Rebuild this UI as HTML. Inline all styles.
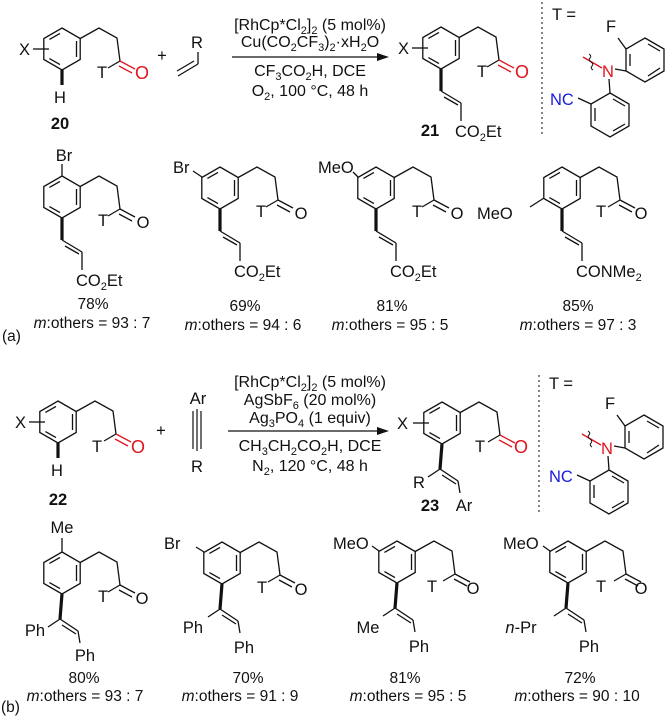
<!DOCTYPE html>
<html><head><meta charset="utf-8"><style>
html,body{margin:0;padding:0;background:#fff}
svg{display:block}
text{font-family:"Liberation Sans",sans-serif;font-size:16.5px;fill:#111}
.s{font-size:15.5px}
.rg{font-size:16px}
.red{fill:#e0141e}
.blue{fill:#1a1adc}
.b{font-weight:bold}
</style></head><body>
<svg width="670" height="717" viewBox="0 0 670 717" xmlns="http://www.w3.org/2000/svg">
<defs>
<g id="r" fill="none" stroke="#111" stroke-width="1.3">
<polygon points="0,-21 18.2,-10.5 18.2,10.5 0,21 -18.2,10.5 -18.2,-10.5"/>
<line x1="14.5" y1="-8" x2="14.5" y2="8"/>
<line x1="-2" y1="15.6" x2="-12.6" y2="9.6"/>
<line x1="-12.6" y1="-9.6" x2="-2" y2="-15.6"/>
</g>
<g id="c" fill="none" stroke-width="1.3">
<polyline points="18.2,-10.5 37,-21 55,-11 58,12" stroke="#111"/>
<line x1="58" y1="12" x2="46" y2="19" stroke="#111"/>
<line x1="58" y1="12" x2="73" y2="20" stroke="#e0141e"/>
<line x1="57" y1="17" x2="70" y2="24" stroke="#e0141e"/>
</g>
<g id="cb" fill="none" stroke-width="1.3" stroke="#111">
<polyline points="18.2,-10.5 37,-21 55,-11 58,12"/>
<line x1="58" y1="12" x2="46" y2="19"/>
<line x1="58" y1="12" x2="73" y2="20"/>
<line x1="57" y1="17" x2="70" y2="24"/>
</g>
<g id="v" fill="none" stroke="#111" stroke-width="1.3">
<line x1="0" y1="21" x2="0" y2="43" stroke-width="3.2"/>
<line x1="0" y1="43" x2="20" y2="55"/>
<line x1="3" y1="49" x2="17" y2="57"/>
<line x1="20" y1="55" x2="20" y2="73"/>
</g>
<g id="w" fill="none" stroke="#111" stroke-width="1.3">
<line x1="0" y1="21" x2="-2" y2="46" stroke-width="3.2"/>
<line x1="-2" y1="46" x2="-14" y2="54"/>
<line x1="-2" y1="46" x2="16" y2="58"/>
<line x1="0" y1="52" x2="14" y2="61"/>
<line x1="16" y1="58" x2="18" y2="70"/>
</g>
<g id="T">
<g fill="none" stroke="#111" stroke-width="1.3">
<polygon points="645,38 664,49 664,71 645,82 626,71 626,49"/>
<line x1="648" y1="44" x2="660" y2="51"/><line x1="660" y1="68" x2="648" y2="76"/><line x1="630" y1="66" x2="630" y2="54"/>
<line x1="626" y1="49" x2="618" y2="38"/>
<line x1="615" y1="69" x2="626" y2="71"/>
<polygon points="610,93 629,104 629,126 610,137 591,126 591,104"/>
<line x1="613" y1="99" x2="625" y2="106"/><line x1="625" y1="124" x2="613" y2="131"/><line x1="595" y1="121" x2="595" y2="108"/>
<line x1="609" y1="79" x2="610" y2="93"/>
<line x1="578" y1="98" x2="591" y2="104"/>
<line x1="583" y1="57" x2="602" y2="68" stroke="#e0141e"/>
<path d="M589,54 q3,2 1,4 q-2,2 1,4 q3,2 1,4 q-2,2 1,4" stroke="#111" stroke-width="1"/>
</g>
<text x="611" y="32" text-anchor="middle">F</text>
<text x="608" y="77" text-anchor="middle" class="red">N</text>
<text x="550" y="105" class="blue">NC</text>
</g>
</defs>

<!-- ===== Scheme a ===== -->
<use href="#r" x="62" y="49"/><use href="#c" x="62" y="49"/>
<line x1="33" y1="49" x2="49" y2="49" stroke="#111" stroke-width="1.3"/>
<text x="19" y="55">X</text>
<line x1="62" y1="70" x2="62" y2="85" stroke="#111" stroke-width="3.2"/>
<text x="60" y="103" text-anchor="middle">H</text>
<text x="102" y="78" text-anchor="middle">T</text>
<text x="142" y="79" text-anchor="middle" class="red" style="font-size:18px">O</text>
<text x="60" y="129" text-anchor="middle" class="b">20</text>

<text x="162" y="61" text-anchor="middle">+</text>
<text x="197" y="48" text-anchor="middle">R</text>
<g stroke="#111" stroke-width="1.3"><line x1="198" y1="52" x2="198" y2="64"/><line x1="198" y1="64" x2="178" y2="76"/><line x1="194" y1="61" x2="177" y2="71"/></g>

<line x1="232" y1="57" x2="380" y2="57" stroke="#111" stroke-width="1.3"/>
<polygon points="389,57 377,53 377,61" fill="#111"/>
<text x="310" y="30" text-anchor="middle" class="rg">[RhCp*Cl<tspan font-size="11" dy="4">2</tspan><tspan dy="-4">]</tspan><tspan font-size="11" dy="4">2</tspan><tspan dy="-4"> (5 mol%)</tspan></text>
<text x="310" y="47" text-anchor="middle" class="rg">Cu(CO<tspan font-size="11" dy="4">2</tspan><tspan dy="-4">CF</tspan><tspan font-size="11" dy="4">3</tspan><tspan dy="-4">)</tspan><tspan font-size="11" dy="4">2</tspan><tspan dy="-4">·xH</tspan><tspan font-size="11" dy="4">2</tspan><tspan dy="-4">O</tspan></text>
<text x="310" y="76" text-anchor="middle" class="rg">CF<tspan font-size="11" dy="4">3</tspan><tspan dy="-4">CO</tspan><tspan font-size="11" dy="4">2</tspan><tspan dy="-4">H, DCE</tspan></text>
<text x="310" y="96" text-anchor="middle" class="rg">O<tspan font-size="11" dy="4">2</tspan><tspan dy="-4">, 100 °C, 48 h</tspan></text>

<use href="#r" x="441" y="48"/><use href="#c" x="441" y="48"/><use href="#v" x="441" y="48"/>
<line x1="412" y1="48" x2="428" y2="48" stroke="#111" stroke-width="1.3"/>
<text x="398" y="54">X</text>
<text x="482" y="77" text-anchor="middle">T</text>
<text x="522" y="78" text-anchor="middle" class="red" style="font-size:18px">O</text>
<text x="455" y="137">CO<tspan font-size="11" dy="4">2</tspan><tspan dy="-4">Et</tspan></text>
<text x="430" y="136" text-anchor="middle" class="b">21</text>
<line x1="542" y1="2" x2="542" y2="137" stroke="#333" stroke-width="1.2" stroke-dasharray="2,3"/>
<text x="552" y="20">T =</text>
<use href="#T"/>

<!-- products a -->
<use href="#r" x="62" y="197"/><use href="#cb" x="62" y="197"/><use href="#v" x="62" y="197"/>
<line x1="62" y1="176" x2="62" y2="164" stroke="#111" stroke-width="1.3"/>
<text x="64" y="161" text-anchor="middle">Br</text>
<text x="103" y="226" text-anchor="middle">T</text><text x="143" y="228" text-anchor="middle">O</text>
<text x="76" y="286">CO<tspan font-size="11" dy="4">2</tspan><tspan dy="-4">Et</tspan></text>
<text x="93" y="309" text-anchor="middle" class="s">78%</text>
<text x="92" y="328" text-anchor="middle" class="s"><tspan font-style="italic">m</tspan>:others = 93 : 7</text>
<text x="2" y="341" class="s">(a)</text>

<use href="#r" x="220" y="188"/><use href="#cb" x="220" y="188"/><use href="#v" x="220" y="188"/>
<line x1="202" y1="177" x2="193" y2="171" stroke="#111" stroke-width="1.3"/>
<text x="173" y="173">Br</text>
<text x="261" y="217" text-anchor="middle">T</text><text x="301" y="219" text-anchor="middle">O</text>
<text x="234" y="277">CO<tspan font-size="11" dy="4">2</tspan><tspan dy="-4">Et</tspan></text>
<text x="245" y="311" text-anchor="middle" class="s">69%</text>
<text x="243" y="330" text-anchor="middle" class="s"><tspan font-style="italic">m</tspan>:others = 94 : 6</text>

<use href="#r" x="376" y="188"/><use href="#cb" x="376" y="188"/><use href="#v" x="376" y="188"/>
<line x1="358" y1="177" x2="353" y2="172" stroke="#111" stroke-width="1.3"/>
<text x="318" y="173">MeO</text>
<text x="417" y="217" text-anchor="middle">T</text><text x="457" y="219" text-anchor="middle">O</text>
<text x="390" y="277">CO<tspan font-size="11" dy="4">2</tspan><tspan dy="-4">Et</tspan></text>
<text x="392" y="311" text-anchor="middle" class="s">81%</text>
<text x="390" y="330" text-anchor="middle" class="s"><tspan font-style="italic">m</tspan>:others = 95 : 5</text>

<use href="#r" x="562" y="188"/><use href="#cb" x="562" y="188"/><use href="#v" x="562" y="188"/>
<line x1="544" y1="198" x2="530" y2="207" stroke="#111" stroke-width="1.3"/>
<text x="477" y="219">MeO</text>
<text x="601" y="217" text-anchor="middle">T</text><text x="641" y="219" text-anchor="middle">O</text>
<text x="576" y="277">CONMe<tspan font-size="11" dy="4">2</tspan></text>
<text x="578" y="311" text-anchor="middle" class="s">85%</text>
<text x="578" y="330" text-anchor="middle" class="s"><tspan font-style="italic">m</tspan>:others = 97 : 3</text>

<!-- ===== Scheme b ===== -->
<use href="#r" x="58" y="422"/><use href="#c" x="58" y="422"/>
<line x1="29" y1="422" x2="45" y2="422" stroke="#111" stroke-width="1.3"/>
<text x="15" y="428">X</text>
<line x1="58" y1="443" x2="58" y2="458" stroke="#111" stroke-width="3.2"/>
<text x="57" y="476" text-anchor="middle">H</text>
<text x="97" y="452" text-anchor="middle">T</text>
<text x="138" y="453" text-anchor="middle" class="red" style="font-size:18px">O</text>
<text x="58" y="505" text-anchor="middle" class="b">22</text>

<text x="161" y="436" text-anchor="middle">+</text>
<text x="198" y="404" text-anchor="middle">Ar</text>
<g stroke="#111" stroke-width="1.2"><line x1="197" y1="409" x2="197" y2="451"/><line x1="193" y1="411" x2="193" y2="449"/><line x1="201" y1="411" x2="201" y2="449"/></g>
<text x="197" y="472" text-anchor="middle">R</text>

<line x1="228" y1="431" x2="380" y2="431" stroke="#111" stroke-width="1.3"/>
<polygon points="389,431 377,427 377,435" fill="#111"/>
<text x="310" y="387" text-anchor="middle" class="rg">[RhCp*Cl<tspan font-size="11" dy="4">2</tspan><tspan dy="-4">]</tspan><tspan font-size="11" dy="4">2</tspan><tspan dy="-4"> (5 mol%)</tspan></text>
<text x="310" y="405" text-anchor="middle" class="rg">AgSbF<tspan font-size="11" dy="4">6</tspan><tspan dy="-4"> (20 mol%)</tspan></text>
<text x="310" y="423" text-anchor="middle" class="rg">Ag<tspan font-size="11" dy="4">3</tspan><tspan dy="-4">PO</tspan><tspan font-size="11" dy="4">4</tspan><tspan dy="-4"> (1 equiv)</tspan></text>
<text x="310" y="451" text-anchor="middle" class="rg">CH<tspan font-size="11" dy="4">3</tspan><tspan dy="-4">CH</tspan><tspan font-size="11" dy="4">2</tspan><tspan dy="-4">CO</tspan><tspan font-size="11" dy="4">2</tspan><tspan dy="-4">H, DCE</tspan></text>
<text x="310" y="471" text-anchor="middle" class="rg">N<tspan font-size="11" dy="4">2</tspan><tspan dy="-4">, 120 °C, 48 h</tspan></text>

<use href="#r" x="442" y="423"/><use href="#c" x="442" y="423"/><use href="#w" x="442" y="423"/>
<line x1="413" y1="423" x2="429" y2="423" stroke="#111" stroke-width="1.3"/>
<text x="397" y="429">X</text>
<text x="480" y="452" text-anchor="middle">T</text>
<text x="521" y="453" text-anchor="middle" class="red" style="font-size:18px">O</text>
<text x="419" y="488" text-anchor="middle">R</text>
<text x="464" y="511" text-anchor="middle">Ar</text>
<text x="430" y="511" text-anchor="middle" class="b">23</text>
<line x1="539" y1="375" x2="539" y2="515" stroke="#333" stroke-width="1.2" stroke-dasharray="2,3"/>
<text x="549" y="389">T =</text>
<use href="#T" transform="translate(-1,377)"/>

<!-- products b -->
<use href="#r" x="62" y="573"/><use href="#cb" x="62" y="573"/><use href="#w" x="62" y="573"/>
<line x1="62" y1="552" x2="62" y2="538" stroke="#111" stroke-width="1.3"/>
<text x="62" y="533" text-anchor="middle">Me</text>
<text x="103" y="602" text-anchor="middle">T</text><text x="142" y="604" text-anchor="middle">O</text>
<text x="35" y="636" text-anchor="middle">Ph</text><text x="85" y="661" text-anchor="middle">Ph</text>
<text x="84" y="683" text-anchor="middle" class="s">80%</text>
<text x="85" y="701" text-anchor="middle" class="s"><tspan font-style="italic">m</tspan>:others = 93 : 7</text>
<text x="1" y="712" class="s">(b)</text>

<use href="#r" x="222" y="563"/><use href="#cb" x="222" y="563"/><use href="#w" x="222" y="563"/>
<line x1="204" y1="552" x2="196" y2="547" stroke="#111" stroke-width="1.3"/>
<text x="164" y="549">Br</text>
<text x="262" y="593" text-anchor="middle">T</text><text x="301" y="595" text-anchor="middle">O</text>
<text x="193" y="633" text-anchor="middle">Ph</text><text x="244" y="653" text-anchor="middle">Ph</text>
<text x="248" y="683" text-anchor="middle" class="s">70%</text>
<text x="240" y="701" text-anchor="middle" class="s"><tspan font-style="italic">m</tspan>:others = 91 : 9</text>

<use href="#r" x="397" y="562"/><use href="#cb" x="397" y="562"/><use href="#w" x="397" y="562"/>
<line x1="379" y1="551" x2="372" y2="546" stroke="#111" stroke-width="1.3"/>
<text x="333" y="549">MeO</text>
<text x="432" y="592" text-anchor="middle">T</text><text x="473" y="594" text-anchor="middle">O</text>
<text x="368" y="633" text-anchor="middle">Me</text><text x="419" y="652" text-anchor="middle">Ph</text>
<text x="405" y="683" text-anchor="middle" class="s">81%</text>
<text x="408" y="701" text-anchor="middle" class="s"><tspan font-style="italic">m</tspan>:others = 95 : 5</text>

<use href="#r" x="568" y="562"/><use href="#cb" x="568" y="562"/><use href="#w" x="568" y="562"/>
<line x1="550" y1="551" x2="543" y2="546" stroke="#111" stroke-width="1.3"/>
<text x="503" y="549">MeO</text>
<text x="601" y="592" text-anchor="middle">T</text><text x="641" y="594" text-anchor="middle">O</text>
<text x="521" y="633" text-anchor="middle"><tspan font-style="italic">n</tspan>-Pr</text><text x="589" y="652" text-anchor="middle">Ph</text>
<text x="580" y="683" text-anchor="middle" class="s">72%</text>
<text x="577" y="701" text-anchor="middle" class="s"><tspan font-style="italic">m</tspan>:others = 90 : 10</text>
</svg>
</body></html>
